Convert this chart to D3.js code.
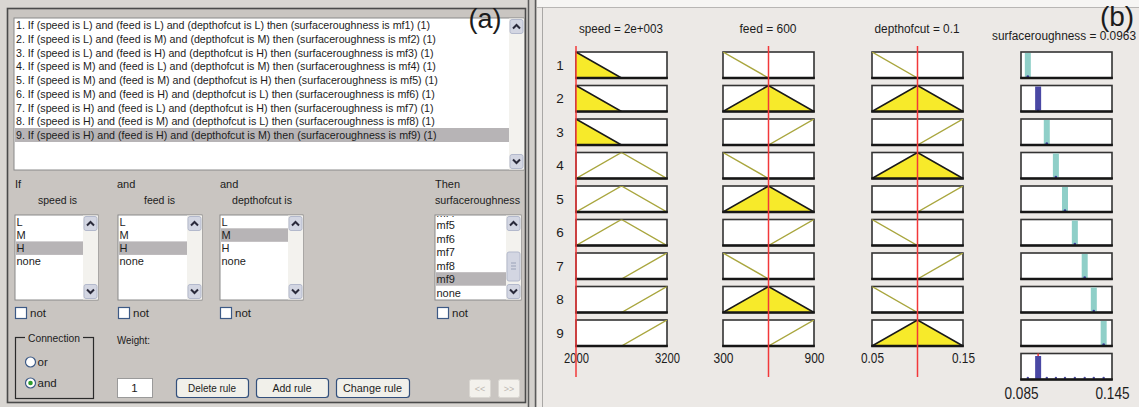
<!DOCTYPE html>
<html><head><meta charset="utf-8">
<script src="https://cdn.jsdelivr.net/npm/d3@7"></script>
<style>
body{margin:0;background:#ece9e6;}
svg{display:block;}
text{font-family:"Liberation Sans",Arial,sans-serif;}
</style>
</head><body>
<svg id="c" width="1139" height="407"></svg>
<script>
// ---------------- DATA ----------------
const mfNames = ["L", "M", "H"];
const ruleSpeed = ["L", "L", "L", "M", "M", "M", "H", "H", "H"];
const ruleFeed  = ["L", "M", "H", "L", "M", "H", "L", "M", "H"];
const ruleDepth = ["L", "M", "H", "M", "H", "L", "H", "L", "M"];
const ruleOut   = ["mf1", "mf2", "mf3", "mf4", "mf5", "mf6", "mf7", "mf8", "mf9"];
const ruleWeight = [1, 1, 1, 1, 1, 1, 1, 1, 1];
const selectedRule = 8;

const inputTitles = ["speed = 2e+003", "feed = 600", "depthofcut = 0.1"];
const outputTitle = "surfaceroughness = 0.0963";
const inputValues = [2000, 600, 0.1];
const outputValue = 0.0963;

const speedDomain = [2000, 3200];
const feedDomain  = [300, 900];
const depthDomain = [0.05, 0.15];
const srDomain    = [0.085, 0.145];

const speedMF = [[1400, 2000, 2600], [2000, 2600, 3200], [2600, 3200, 3800]];
const feedMF  = [[0, 300, 600], [300, 600, 900], [600, 900, 1200]];
const depthMF = [[0, 0.05, 0.1], [0.05, 0.1, 0.15], [0.1, 0.15, 0.2]];
const srCenters = [0.0895, 0.0963, 0.1020, 0.1080, 0.1140, 0.1205, 0.1270, 0.1330, 0.1395];

const speedTickLabels = ["2000", "3200"];
const feedTickLabels  = ["300", "900"];
const depthTickLabels = ["0.05", "0.15"];
const srTickLabels    = ["0.085", "0.145"];

const listItems = ["L", "M", "H", "none"];
const outItems = ["mf1", "mf2", "mf3", "mf4", "mf5", "mf6", "mf7", "mf8", "mf9", "none"];
const outScrollFirst = 3; // first (partly) visible item in the output list

// ---------------- HELPERS ----------------
const svg = d3.select("#c");
function txt(g, x, y, s, size, o = {}) {
  const t = g.append("text").attr("x", x).attr("y", y).attr("font-size", size)
    .attr("fill", o.fill || "#1c1c1c").attr("dominant-baseline", "central").text(s);
  if (o.anchor) t.attr("text-anchor", o.anchor);
  if (o.w) t.attr("textLength", o.w).attr("lengthAdjust", "spacingAndGlyphs");
  return t;
}
function chevron(g, cx, cy, up) {
  const d = up ? `M${cx-3.5},${cy+2} L${cx},${cy-1.5} L${cx+3.5},${cy+2}`
               : `M${cx-3.5},${cy-2} L${cx},${cy+1.5} L${cx+3.5},${cy-2}`;
  g.append("path").attr("d", d).attr("fill", "none").attr("stroke", "#2a2a3a").attr("stroke-width", 2);
}
function scrollbar(g, x, y, w, h) {
  g.append("rect").attr("x", x).attr("y", y).attr("width", w).attr("height", h).attr("fill", "#f3f2ee");
  g.append("rect").attr("x", x + 1).attr("y", y + 1).attr("width", w - 2).attr("height", 14).attr("rx", 2)
    .attr("fill", "#d3d6e2").attr("stroke", "#b3b9cc");
  chevron(g, x + w / 2, y + 8, true);
  g.append("rect").attr("x", x + 1).attr("y", y + h - 15).attr("width", w - 2).attr("height", 14).attr("rx", 2)
    .attr("fill", "#d3d6e2").attr("stroke", "#b3b9cc");
  chevron(g, x + w / 2, y + h - 8, false);
}
function trimf(x, p) {
  const [a, b, c] = p;
  return Math.max(Math.min((x - a) / (b - a), (c - x) / (c - b)), 0);
}

// ---------------- LEFT PANEL ----------------
const Lg = svg.append("g");
Lg.append("rect").attr("x", 0).attr("y", 0).attr("width", 527).attr("height", 407).attr("fill", "#d9d6d2");
Lg.append("rect").attr("x", 7.5).attr("y", 8.5).attr("width", 518).attr("height", 394)
  .attr("fill", "#c9c5c1").attr("stroke", "#4a4a4a").attr("stroke-width", 1.6);

// rule list
Lg.append("rect").attr("x", 14).attr("y", 18).attr("width", 510).attr("height", 152)
  .attr("fill", "#fff").attr("stroke", "#8a8a8a");
Lg.append("rect").attr("x", 15).attr("y", 128).attr("width", 494).attr("height", 14).attr("fill", "#b7b4b6");
scrollbar(Lg, 509, 18.5, 15, 151);
const ruleTexts = ruleSpeed.map((s, i) =>
  `${i + 1}. If (speed is ${s}) and (feed is ${ruleFeed[i]}) and (depthofcut is ${ruleDepth[i]}) then (surfaceroughness is ${ruleOut[i]}) (${ruleWeight[i]})`);
const rt = ruleTexts.map((s, i) => txt(Lg, 16, 25 + i * 13.75, s, 11));
const k = 414 / rt[0].node().getComputedTextLength();
rt.forEach(t => t.attr("textLength", t.node().getComputedTextLength() * k).attr("lengthAdjust", "spacingAndGlyphs"));

// headers
txt(Lg, 15, 184, "If", 11);
txt(Lg, 38, 199.5, "speed is", 11, {w: 39});
txt(Lg, 117, 184, "and", 11);
txt(Lg, 144, 199.5, "feed is", 11, {w: 31});
txt(Lg, 220, 184, "and", 11);
txt(Lg, 232, 199.5, "depthofcut is", 11, {w: 60});
txt(Lg, 435, 184, "Then", 11);
txt(Lg, 435, 199.5, "surfaceroughness", 11, {w: 85});

// listboxes
const lbs = [
  {x: 15, w: 83, items: listItems, sel: mfNames.indexOf(ruleSpeed[selectedRule]), first: 0},
  {x: 118, w: 84, items: listItems, sel: mfNames.indexOf(ruleFeed[selectedRule]), first: 0},
  {x: 220, w: 83, items: listItems, sel: mfNames.indexOf(ruleDepth[selectedRule]), first: 0},
  {x: 435, w: 86, items: outItems, sel: outItems.indexOf(ruleOut[selectedRule]), first: outScrollFirst}
];
lbs.forEach((b, j) => {
  const g = Lg.append("g");
  const cid = "lbclip" + j;
  g.append("clipPath").attr("id", cid).append("rect").attr("x", b.x).attr("y", 216).attr("width", b.w).attr("height", 84);
  g.append("rect").attr("x", b.x).attr("y", 215).attr("width", b.w).attr("height", 85)
    .attr("fill", "#fff").attr("stroke", "#8a8a8a");
  const ig = g.append("g").attr("clip-path", `url(#${cid})`);
  const step = j === 3 ? 13.5 : 13.1;
  b.items.forEach((s, i) => {
    if (i < b.first) return;
    const y = j === 3 ? 225 + (i - 4) * step + (i === 3 ? 1.5 : 0) : 222 + i * step;
    if (i === b.sel) ig.append("rect").attr("x", b.x + 1).attr("y", y - 6.8).attr("width", b.w - 16).attr("height", 13.5).attr("fill", "#b7b4b6");
    txt(ig, b.x + 1.5, y, s, 11);
  });
  scrollbar(g, b.x + b.w - 15, 215.5, 15, 84);
  if (j === 3) {
    g.append("rect").attr("x", b.x + b.w - 14).attr("y", 252).attr("width", 13).attr("height", 29).attr("rx", 2)
      .attr("fill", "#d3d6e2").attr("stroke", "#b3b9cc");
    [263, 266, 269].forEach(yy => g.append("line").attr("x1", b.x + b.w - 10).attr("x2", b.x + b.w - 5)
      .attr("y1", yy).attr("y2", yy).attr("stroke", "#9aa2b8"));
  }
  const cx = j === 3 ? 437 : b.x;
  Lg.append("rect").attr("x", cx + 0.5).attr("y", 307.5).attr("width", 11).attr("height", 11)
    .attr("fill", "#fff").attr("stroke", "#3d5a86").attr("stroke-width", 1.2);
  txt(Lg, cx + 15, 313, "not", 11.5);
});

// Connection frame
Lg.append("rect").attr("x", 15.5).attr("y", 337.5).attr("width", 78).attr("height", 61)
  .attr("fill", "none").attr("stroke", "#2a2a2a").attr("stroke-width", 1.2);
Lg.append("rect").attr("x", 25).attr("y", 331).attr("width", 58).attr("height", 12).attr("fill", "#c9c5c1");
txt(Lg, 54, 338, "Connection", 11.5, {anchor: "middle", w: 52});
[["or", 362, false], ["and", 383, true]].forEach(([s, y, on]) => {
  Lg.append("circle").attr("cx", 30.5).attr("cy", y).attr("r", 5).attr("fill", "#fff").attr("stroke", "#3d5a86").attr("stroke-width", 1.2);
  if (on) Lg.append("circle").attr("cx", 30.5).attr("cy", y).attr("r", 2.3).attr("fill", "#2f9d2f");
  txt(Lg, 37.5, y, s, 11.5);
});
txt(Lg, 117, 340, "Weight:", 11.5, {w: 33});
Lg.append("rect").attr("x", 117.5).attr("y", 378.5).attr("width", 35).attr("height", 19).attr("fill", "#fff").attr("stroke", "#9a9a9a");
txt(Lg, 134.5, 388, String(ruleWeight[selectedRule]), 11.5, {anchor: "middle"});
[["Delete rule", 176, 72, 48], ["Add rule", 256, 72, 39], ["Change rule", 336, 73, 59]].forEach(([s, x, w, tw]) => {
  Lg.append("rect").attr("x", x + 0.5).attr("y", 378.5).attr("width", w).attr("height", 19).attr("rx", 3)
    .attr("fill", "#f1f0ea").attr("stroke", "#33507c").attr("stroke-width", 1.2);
  txt(Lg, x + w / 2, 388, s, 11.5, {anchor: "middle", w: tw});
});
[["<<", 469], [">>", 498]].forEach(([s, x]) => {
  Lg.append("rect").attr("x", x + 0.5).attr("y", 379.5).attr("width", 21).attr("height", 18).attr("rx", 2)
    .attr("fill", "#f3f1ec").attr("stroke", "#dad7d2");
  txt(Lg, x + 11, 388.5, s, 9, {anchor: "middle", fill: "#bdb8b2"});
});

// separator
svg.append("rect").attr("x", 527).attr("y", 0).attr("width", 12).attr("height", 407).attr("fill", "#d3d0cc");
svg.append("line").attr("x1", 528.5).attr("x2", 528.5).attr("y1", 0).attr("y2", 407).attr("stroke", "#5a5a5a").attr("stroke-width", 1.5);
svg.append("line").attr("x1", 535.5).attr("x2", 535.5).attr("y1", 0).attr("y2", 407).attr("stroke", "#5a5a5a").attr("stroke-width", 1.5);

// ---------------- RIGHT PANEL ----------------
const R = svg.append("g");
R.append("rect").attr("x", 537).attr("y", 0).attr("width", 602).attr("height", 407).attr("fill", "#ece9e6");
R.append("rect").attr("x", 537).attr("y", 0).attr("width", 602).attr("height", 7).attr("fill", "#f6f5f3");
R.append("line").attr("x1", 537).attr("x2", 1139).attr("y1", 7.5).attr("y2", 7.5).attr("stroke", "#b8b6b4");
R.append("line").attr("x1", 542.5).attr("x2", 542.5).attr("y1", 7).attr("y2", 407).attr("stroke", "#a9a7a5");

const colX = [576, 723, 872, 1021];
const colW = 91, boxH = 26;
const rowTop = i => 52 + i * 33.5;
const xScales = [speedDomain, feedDomain, depthDomain, srDomain].map((d, j) =>
  d3.scaleLinear().domain(d).range([colX[j], colX[j] + colW]));
const mfSets = [speedMF, feedMF, depthMF];
const ruleIn = [ruleSpeed, ruleFeed, ruleDepth];

inputTitles.forEach((s, j) => txt(R, colX[j] + colW / 2 - 0.5, 29, s, 12, {anchor: "middle", w: [84, 57, 85][j]}));
txt(R, 1064, 36, outputTitle, 12, {anchor: "middle", w: 144});

function box(g, x, y, id) {
  g.append("clipPath").attr("id", id).append("rect").attr("x", x).attr("y", y).attr("width", colW).attr("height", boxH);
  g.append("rect").attr("x", x).attr("y", y).attr("width", colW).attr("height", boxH)
    .attr("fill", "#fff").attr("stroke", "#333").attr("stroke-width", 1.6);
}
function boxBottom(g, x, y) {
  g.append("line").attr("x1", x - 0.8).attr("x2", x + colW + 0.8).attr("y1", y + boxH).attr("y2", y + boxH)
    .attr("stroke", "#161616").attr("stroke-width", 2.6);
}

ruleSpeed.forEach((_, i) => {
  const top = rowTop(i);
  const y = d3.scaleLinear().domain([0, 1]).range([top + boxH, top]);
  txt(R, 560, top + 13, String(i + 1), 13.5, {anchor: "middle"});
  const mus = [];
  [0, 1, 2].forEach(j => {
    const id = `bx${i}_${j}`;
    box(R, colX[j], top, id);
    const p = mfSets[j][mfNames.indexOf(ruleIn[j][i])];
    const mu = trimf(inputValues[j], p);
    mus.push(mu);
    const x = xScales[j];
    const g = R.append("g").attr("clip-path", `url(#${id})`);
    const line = d3.line().x(d => x(d[0])).y(d => y(d[1]));
    const tri = [[p[0], 0], [p[1], 1], [p[2], 0]];
    if (mu > 0) {
      const poly = [[p[0], 0], [p[0] + mu * (p[1] - p[0]), mu], [p[2] - mu * (p[2] - p[1]), mu], [p[2], 0]];
      g.append("path").attr("d", line(poly) + "Z").attr("fill", "#f7ea2a");
      g.append("path").attr("d", line(tri)).attr("fill", "none").attr("stroke", "#1a1a1a").attr("stroke-width", 1.6);
    } else {
      g.append("path").attr("d", line(tri)).attr("fill", "none").attr("stroke", "#a9a63e").attr("stroke-width", 1.4);
    }
    boxBottom(R, colX[j], top);
  });
  const fire = Math.min(...mus);
  box(R, colX[3], top, `bo${i}`);
  const cx = xScales[3](srCenters[i]);
  R.append("rect").attr("x", cx - 3).attr("y", top + 1).attr("width", 6).attr("height", boxH - 2)
    .attr("fill", fire > 0 ? "#4a48a4" : "#8fcfc8");
  R.append("circle").attr("cx", cx).attr("cy", top + boxH - 1.5).attr("r", 1.3).attr("fill", "#3b3b9a");
  boxBottom(R, colX[3], top);
});

// aggregate output
const aTop = rowTop(9);
box(R, colX[3], aTop, "bagg");
const ox = xScales[3](outputValue);
R.append("line").attr("x1", ox).attr("x2", ox).attr("y1", aTop).attr("y2", aTop + boxH).attr("stroke", "#f03a3a").attr("stroke-width", 1.6);
R.append("rect").attr("x", ox - 3).attr("y", aTop + 2.5).attr("width", 6).attr("height", boxH - 3).attr("fill", "#4a48a4");
srCenters.forEach(c => R.append("circle").attr("cx", xScales[3](c)).attr("cy", aTop + boxH - 1.5).attr("r", 1.2).attr("fill", "#4a48a4"));
boxBottom(R, colX[3], aTop);

// axes (tick labels)
const tickSets = [
  [speedDomain, speedTickLabels, 353, 14, 25],
  [feedDomain, feedTickLabels, 353, 14, 20],
  [depthDomain, depthTickLabels, 353, 14, 23],
  [srDomain, srTickLabels, 387.5, 16, 34]
];
tickSets.forEach(([dom, labels, ty, fs, tw], j) => {
  const ax = d3.axisBottom(xScales[j]).tickValues(dom).tickSize(0).tickPadding(0)
    .tickFormat((d, i) => labels[i]);
  const g = R.append("g").attr("transform", `translate(0,${ty})`).call(ax);
  g.select(".domain").remove();
  g.selectAll("text").attr("font-size", fs).attr("fill", "#1c1c1c")
    .attr("font-family", '"Liberation Sans", Arial, sans-serif')
    .attr("textLength", tw).attr("lengthAdjust", "spacingAndGlyphs");
});

// red input lines
inputValues.forEach((v, j) => {
  const x = xScales[j](v);
  R.append("line").attr("x1", x).attr("x2", x).attr("y1", 46).attr("y2", 377)
    .attr("stroke", "#f2383a").attr("stroke-width", 1.5);
});

// panel labels
txt(svg, 485, 19, "(a)", 27, {anchor: "middle"});
txt(svg, 1117, 16, "(b)", 28, {anchor: "middle"});
</script>
</body></html>
